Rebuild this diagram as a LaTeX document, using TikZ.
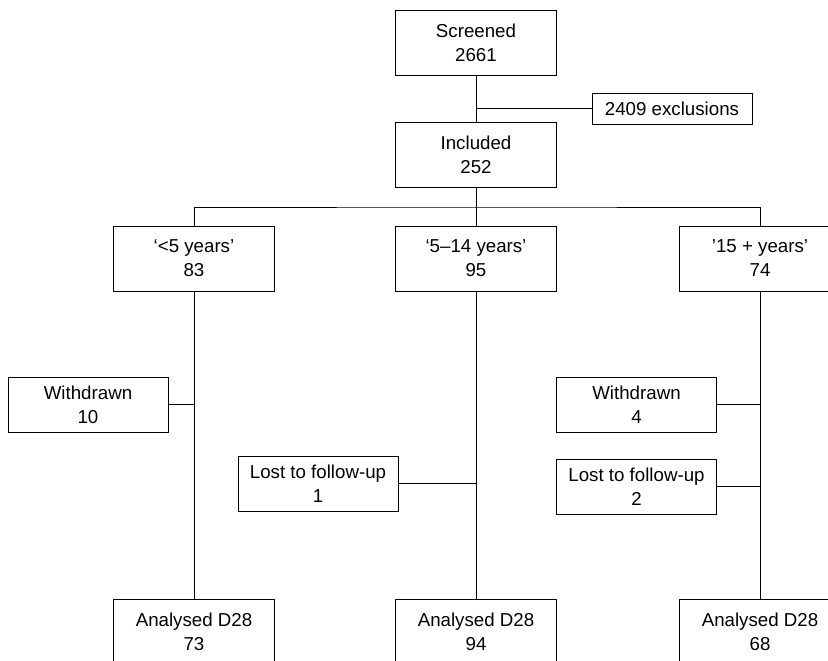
\documentclass[tikz,border=0pt]{standalone}
\usepackage{fontspec}
\setmainfont{Liberation Sans}
\usepackage{tikz}

\begin{document}
\begin{tikzpicture}[x=1pt, y=-1pt, line width=1pt,
        every node/.style={font=\fontsize{18.7}{24}\selectfont, align=center},
        box/.style={rectangle, draw, minimum width=161pt, minimum height=65pt, inner sep=0pt},
        sidebox/.style={rectangle, draw, minimum width=160pt, minimum height=55pt, inner sep=0pt},
        exclbox/.style={rectangle, draw, minimum width=160pt, minimum height=30pt, inner sep=0pt}]
                \clip (0,0) rectangle (828,661);

                \node[box] (scr) at (476,43) {Screened\\2661};
                \node[exclbox] (excl) at (672,109) {2409 exclusions};
                \node[box] (incl) at (476,154.5) {Included\\252};

                \node[box] (grpA) at (194,258.5) {‘<5 years’\\83};
                \node[box] (grpB) at (476,258.5) {‘5–14 years’\\95};
                \node[box] (grpC) at (760,258.5) {’15 + years’\\74};

                \node[sidebox] (wdA) at (88,404.5) {Withdrawn\\10};
                \node[sidebox] (lostB) at (318,483.5) {Lost to follow-up\\1};
                \node[sidebox] (wdC) at (636.5,404.5) {Withdrawn\\4};
                \node[sidebox] (lostC) at (636.5,486.5) {Lost to follow-up\\2};

                \node[box] (anaA) at (194,631.5) {Analysed D28\\73};
                \node[box] (anaB) at (476,631.5) {Analysed D28\\94};
                \node[box] (anaC) at (760,631.5) {Analysed D28\\68};

                \coordinate (split) at (476,207);

                \draw (scr) -- (incl);
                \draw (excl.west) -- (excl.west -| scr.south);
                \draw (incl) -- (split);
                \draw (grpA.north) |- (split) -| (grpC.north);
                \draw (split) -- (grpB);

                \draw (grpA) -- (anaA);
                \draw (grpB) -- (anaB);
                \draw (grpC) -- (anaC);

                \draw (wdA.east) -- (wdA.east -| grpA.south);
                \draw (lostB.east) -- (lostB.east -| grpB.south);
                \draw (wdC.east) -- (wdC.east -| grpC.south);
                \draw (lostC.east) -- (lostC.east -| grpC.south);
            \end{tikzpicture}
\end{document}
